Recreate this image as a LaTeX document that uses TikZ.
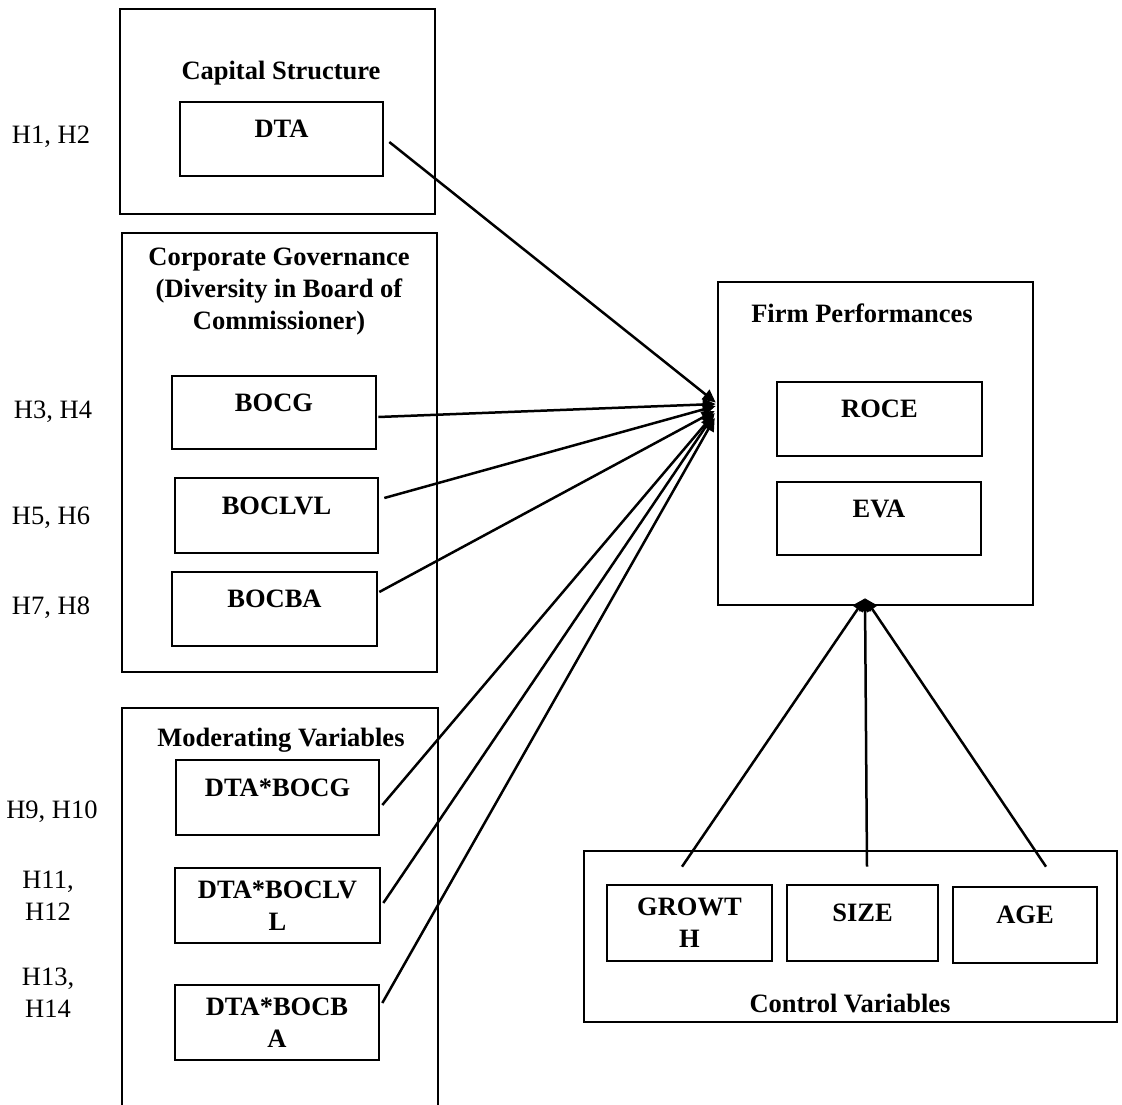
\documentclass[tikz,border=0pt]{standalone}
\usepackage{fontspec}
\setmainfont{Liberation Serif}
\usetikzlibrary{arrows.meta,calc}
\begin{document}
\begin{tikzpicture}[x=1pt,y=-1pt,
    every node/.style={font=\fontsize{26.5pt}{32pt}\selectfont},
    outer/.style={draw,line width=2.6pt,inner sep=0pt},
    var/.style={draw,line width=2.6pt,inner sep=0pt,font=\fontsize{26.5pt}{32pt}\selectfont\bfseries,text depth=20pt},
    vartwo/.style={draw,line width=2.6pt,inner sep=0pt,font=\fontsize{26.5pt}{32pt}\selectfont\bfseries,align=center},
    title/.style={font=\fontsize{26.5pt}{32pt}\selectfont\bfseries,align=center},
    hyp/.style={align=center},
    link/.style={line width=2.5pt,-{Triangle[length=13pt,width=12pt]}}]
      \useasboundingbox (0,0) rectangle (1122,1105);
      \node[outer,minimum width=315pt,minimum height=205pt] (cap) at (277.5,111.5) {};
      \node[outer,minimum width=315pt,minimum height=439pt] (gov) at (279.5,452.5) {};
      \node[outer,minimum width=316pt,minimum height=404pt] (mod) at (280,910) {};
      \node[outer,minimum width=315pt,minimum height=323pt] (firm) at (875.5,443.5) {};
      \node[outer,minimum width=533pt,minimum height=171pt] (ctrl) at (850.5,936.5) {};
      \node[title] (captitle) at (281,73) {Capital Structure};
      \node[title] (govtitle) at (279,292) {Corporate Governance\\(Diversity in Board of\\Commissioner)};
      \node[title] (modtitle) at (281,740) {Moderating Variables};
      \node[title] (firmtitle) at (862,313) {Firm Performances};
      \node[title] (ctrltitle) at (850,1003) {Control Variables};
      \node[var,minimum width=203pt,minimum height=74pt] (dta) at (281.5,139) {DTA};
      \node[var,minimum width=204pt,minimum height=73pt] (bocg) at (274,412.5) {BOCG};
      \node[var,minimum width=203pt,minimum height=75pt] (boclvl) at (276.5,515.5) {BOCLVL};
      \node[var,minimum width=205pt,minimum height=74pt] (bocba) at (274.5,609) {BOCBA};
      \node[var,minimum width=203pt,minimum height=75pt] (dtabocg) at (277.5,797.5) {DTA*BOCG};
      \node[vartwo,minimum width=205pt,minimum height=75pt] (dtaboclvl) at (277.5,905.5) {DTA*BOCLV\\L};
      \node[vartwo,minimum width=204pt,minimum height=75pt] (dtabocba) at (277,1022.5) {DTA*BOCB\\A};
      \node[var,minimum width=205pt,minimum height=74pt] (roce) at (879.5,419) {ROCE};
      \node[var,minimum width=204pt,minimum height=73pt] (eva) at (879,518.5) {EVA};
      \node[vartwo,minimum width=165pt,minimum height=76pt] (growth) at (689.5,923) {GROWT\\H};
      \node[var,minimum width=151pt,minimum height=76pt] (size) at (862.5,923) {SIZE};
      \node[var,minimum width=144pt,minimum height=76pt] (age) at (1025,925) {AGE};
      \node[hyp] (h12) at (51,137) {H1, H2};
      \node[hyp] (h34) at (53,412) {H3, H4};
      \node[hyp] (h56) at (51,518) {H5, H6};
      \node[hyp] (h78) at (51,608) {H7, H8};
      \node[hyp] (h910) at (52,812) {H9, H10};
      \node[hyp] (h1112) at (48,896) {H11,\\H12};
      \node[hyp] (h1314) at (48,993) {H13,\\H14};
      \begin{scope}[link]
        \draw ($(dta.east)+(5,3)$) to ($(firm.west)+(-1,-41)$);
        \draw ($(bocg.east)+(1,4.5)$) to ($(firm.west)+(-1,-39.5)$);
        \draw ($(boclvl.east)+(5,-17.5)$) to ($(firm.west)+(-1,-37.5)$);
        \draw ($(bocba.east)+(1,-17)$) to ($(firm.west)+(-2,-32.5)$);
        \draw ($(dtabocg.east)+(2,7.5)$) to ($(firm.west)+(-2,-30.5)$);
        \draw ($(dtaboclvl.east)+(2,-2.5)$) to ($(firm.west)+(-3,-28.5)$);
        \draw ($(dtabocba.east)+(2,-19.5)$) to ($(firm.west)+(-2,-25.5)$);
        \draw ($(growth.north)+(-7.5,-17)$) to ($(firm.south)+(-10.5,-8)$);
        \draw ($(size.north)+(4.5,-17)$) to ($(firm.south)+(-10.5,-8)$);
        \draw ($(age.north)+(21,-19)$) to ($(firm.south)+(-10.5,-8)$);
      \end{scope}
    \end{tikzpicture}
\end{document}
